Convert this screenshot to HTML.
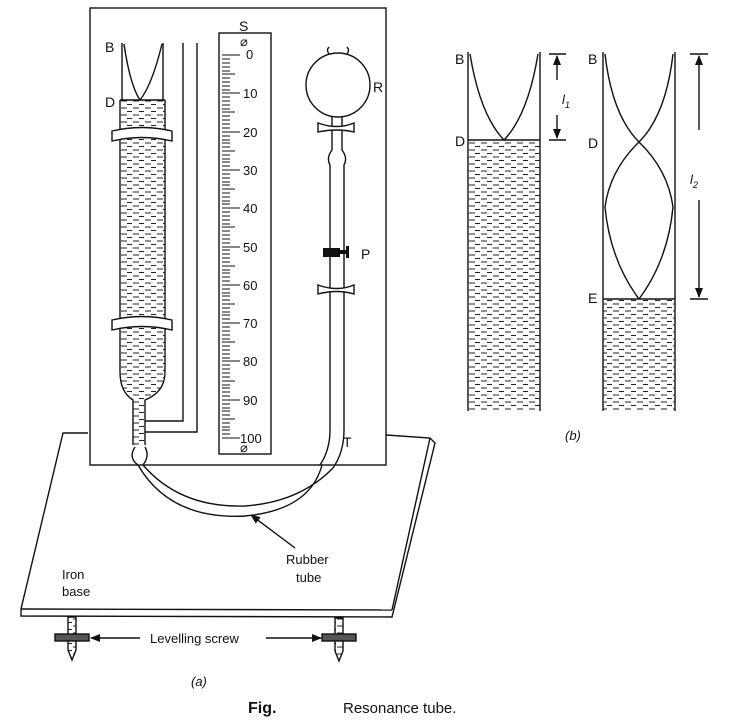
<!DOCTYPE html>
<html><head><meta charset="utf-8"><style>
body{margin:0;background:#fff}
svg{display:block}
text{font-family:"Liberation Sans",sans-serif;fill:#111}
</style></head><body>
<svg width="740" height="722" viewBox="0 0 740 722" xmlns="http://www.w3.org/2000/svg">
<defs>
<pattern id="w" width="12" height="7" patternUnits="userSpaceOnUse">
<line x1="1" y1="3" x2="7" y2="3" stroke="#222" stroke-width="1"/>
<line x1="7" y1="6.5" x2="12" y2="6.5" stroke="#222" stroke-width="1"/>
</pattern>
<marker id="ar" markerWidth="10" markerHeight="8" refX="9" refY="4" orient="auto" markerUnits="userSpaceOnUse"><path d="M0,0 L10,4 L0,8 z" fill="#111"/></marker>
</defs>
<g fill="none" stroke="#111" stroke-width="1.4">
<path d="M88,433 L63,433 L21,609 L21,616 L392,617 L435,443 L430,438 L386,435"/>
<line x1="21" y1="609" x2="392" y2="610"/>
<line x1="392" y1="610" x2="430" y2="438"/>
<rect x="90" y="8" width="296" height="457" fill="#fff"/>
<path d="M122,43 L122,100 M163,43 L163,100"/>
<path d="M120,100 L120,372 Q120,392 133,400 L133,445 M165,100 L165,372 Q165,392 145,400 L145,445"/>
<path d="M120,100 L120,372 Q120,392 133,400 L133,445 L145,445 L145,400 Q165,392 165,372 L165,100 Z" fill="url(#w)" stroke="none"/>
<line x1="120" y1="100" x2="165" y2="100"/>
<path d="M124,44 Q130,85 140,100 Q152,85 162,44"/>
<path d="M112,131 Q142,124 172,131 L172,141 Q142,134 112,141 Z" fill="#fff"/>
<path d="M112,320 Q142,313 172,320 L172,330 Q142,323 112,330 Z" fill="#fff"/>
<path d="M183,43 L183,421 L145,421 M197,43 L197,432 L145,432"/>
<rect x="219" y="33" width="52" height="421" fill="#fff"/>
<circle cx="338" cy="85" r="32"/>
<path d="M329,54 Q326,50 329,47 M347,54 Q350,50 347,47"/>
<path d="M332,117 L332,150 Q326,158 330,165 L330,430 Q330,450 320,465 M342,117 L342,150 Q348,158 344,165 L344,430 Q344,452 333,468"/>
<path d="M318,123 Q337,130 354,123 L354,132 Q337,128 318,132 Z" fill="#fff"/>
<path d="M318,285 Q337,292 354,285 L354,294 Q337,289 318,294 Z" fill="#fff"/>
<path d="M135,447 Q128,458 138,465 Q170,520 245,516 Q310,510 322,465"/>
<path d="M145,447 Q150,456 143,465 Q180,508 245,506 Q300,502 333,468"/>
<line x1="295" y1="548" x2="251" y2="515" marker-end="url(#ar)"/>
<path d="M68,617 L68,650 L72,660 L76,650 L76,617 Z" fill="url(#w)"/>
<rect x="55" y="634" width="34" height="7" fill="#555"/>
<path d="M335,618 L335,651 L339,661 L343,651 L343,618 Z" fill="url(#w)"/>
<rect x="322" y="634" width="34" height="7" fill="#555"/>
<line x1="140" y1="638" x2="91" y2="638" marker-end="url(#ar)"/>
<line x1="266" y1="638" x2="321" y2="638" marker-end="url(#ar)"/>
<path d="M468,52 L468,411 M540,52 L540,411"/>
<rect x="468" y="140" width="72" height="271" fill="url(#w)" stroke="none"/>
<line x1="468" y1="140" x2="540" y2="140"/>
<path d="M470,54 Q480,115 504,140 Q528,115 538,54"/>
<line x1="549" y1="54" x2="566" y2="54"/><line x1="549" y1="140" x2="566" y2="140"/>
<line x1="557" y1="80" x2="557" y2="56" marker-end="url(#ar)"/>
<line x1="557" y1="115" x2="557" y2="138" marker-end="url(#ar)"/>
<path d="M603,52 L603,411 M675,52 L675,411"/>
<rect x="603" y="299" width="72" height="112" fill="url(#w)" stroke="none"/>
<line x1="603" y1="299" x2="675" y2="299"/>
<path d="M605,54 Q612,115 639,142 Q668,170 673,207 Q668,260 639,299"/>
<path d="M673,54 Q666,115 639,142 Q610,170 605,207 Q610,260 639,299"/>
<line x1="690" y1="54" x2="708" y2="54"/><line x1="690" y1="299" x2="708" y2="299"/>
<line x1="699" y1="130" x2="699" y2="56" marker-end="url(#ar)"/>
<line x1="699" y1="200" x2="699" y2="297" marker-end="url(#ar)"/>
</g>
<g stroke="#111" stroke-width="1">
<path d="M222,55h18 M222,59h8 M222,63h8 M222,67h8 M222,71h8 M222,74h13 M222,78h8 M222,82h8 M222,86h8 M222,90h8 M222,93h18 M222,97h8 M222,101h8 M222,105h8 M222,109h8 M222,112h13 M222,116h8 M222,120h8 M222,124h8 M222,128h8 M222,132h18 M222,136h8 M222,140h8 M222,143h8 M222,147h8 M222,151h13 M222,155h8 M222,159h8 M222,162h8 M222,166h8 M222,170h18 M222,174h8 M222,178h8 M222,182h8 M222,185h8 M222,189h13 M222,193h8 M222,197h8 M222,201h8 M222,204h8 M222,208h18 M222,212h8 M222,216h8 M222,220h8 M222,224h8 M222,227h13 M222,231h8 M222,235h8 M222,239h8 M222,243h8 M222,247h18 M222,250h8 M222,254h8 M222,258h8 M222,262h8 M222,266h13 M222,270h8 M222,273h8 M222,277h8 M222,281h8 M222,285h18 M222,289h8 M222,293h8 M222,296h8 M222,300h8 M222,304h13 M222,308h8 M222,312h8 M222,315h8 M222,319h8 M222,323h18 M222,327h8 M222,331h8 M222,335h8 M222,339h8 M222,342h13 M222,346h8 M222,350h8 M222,354h8 M222,358h8 M222,361h18 M222,365h8 M222,369h8 M222,373h8 M222,377h8 M222,381h13 M222,385h8 M222,388h8 M222,392h8 M222,396h8 M222,400h18 M222,404h8 M222,408h8 M222,411h8 M222,415h8 M222,419h13 M222,423h8 M222,427h8 M222,430h8 M222,434h8 M222,438h18"/>
</g>
<rect x="323" y="248" width="17" height="9" fill="#111"/><rect x="340" y="250" width="8" height="4" fill="#111"/><rect x="346" y="246" width="3" height="12" fill="#111"/>
<g font-size="13">
<text x="246" y="59">0</text><text x="243" y="98">10</text><text x="243" y="137">20</text><text x="243" y="175">30</text><text x="243" y="213">40</text><text x="243" y="252">50</text><text x="243" y="290">60</text><text x="243" y="328">70</text><text x="243" y="366">80</text><text x="243" y="405">90</text><text x="240" y="443">100</text>
<text x="240" y="46">⌀</text><text x="240" y="452">⌀</text>
<text x="239" y="31" font-size="14">S</text>
<text x="105" y="52" font-size="14">B</text><text x="105" y="107" font-size="14">D</text>
<text x="373" y="92" font-size="14">R</text><text x="361" y="259" font-size="14">P</text><text x="343" y="447" font-size="14">T</text>
<text x="62" y="579">Iron</text><text x="62" y="596">base</text>
<text x="286" y="564">Rubber</text><text x="296" y="582">tube</text>
<text x="150" y="643">Levelling screw</text>
<text x="191" y="686" font-style="italic">(a)</text>
<text x="455" y="64" font-size="14">B</text><text x="455" y="146" font-size="14">D</text>
<text x="588" y="64" font-size="14">B</text><text x="588" y="148" font-size="14">D</text><text x="588" y="303" font-size="14">E</text>
<text x="562" y="104" font-style="italic" font-family="Liberation Serif">l<tspan font-size="9" dy="4">1</tspan></text>
<text x="690" y="184" font-style="italic" font-family="Liberation Serif">l<tspan font-size="9" dy="4">2</tspan></text>
<text x="565" y="440" font-style="italic">(b)</text>
<text x="248" y="713" font-family="Liberation Serif" font-weight="bold" font-size="16">Fig.</text>
<text x="343" y="713" font-family="Liberation Serif" font-size="15">Resonance tube.</text>
</g>
</svg>
</body></html>
